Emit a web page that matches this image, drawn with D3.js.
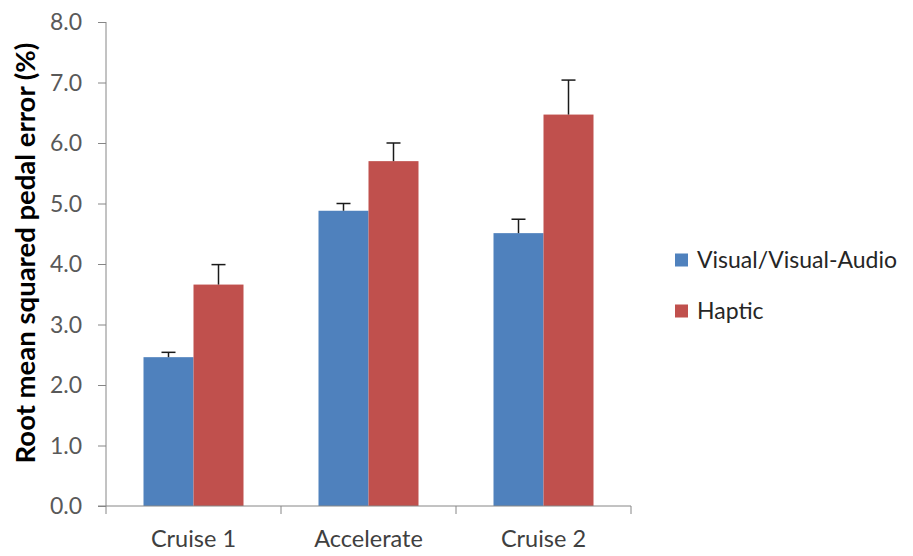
<!DOCTYPE html>
<html><head><meta charset="utf-8">
<script src="https://cdnjs.cloudflare.com/ajax/libs/d3/7.8.5/d3.min.js"></script>
<style>body{margin:0;background:#fff}svg{display:block}text{font-family:Lato,"Open Sans",sans-serif}</style>
</head><body><svg id="c" width="913" height="556"></svg>
<script>
const categories = ["Cruise 1", "Accelerate", "Cruise 2"];
const seriesNames = ["Visual/Visual-Audio", "Haptic"];
const visualValues = [2.46, 4.88, 4.51];
const visualErrors = [0.08, 0.12, 0.23];
const hapticValues = [3.66, 5.70, 6.47];
const hapticErrors = [0.33, 0.30, 0.57];
const yTicks = [0, 1, 2, 3, 4, 5, 6, 7, 8];
const colors = ["#4F81BD", "#C0504D"];

(function () {
const svg = d3.select("#c");
const mLeft = 106, mRight = 631, mTop = 22, mBottom = 506;
const x0 = d3.scaleBand().domain(categories).range([mLeft, mRight]).paddingInner(0).paddingOuter(0);
const x1 = d3.scaleBand().domain(seriesNames).range([0, x0.bandwidth()]).paddingInner(0).paddingOuter(0.75);
const y = d3.scaleLinear().domain([0, 8]).range([mBottom, mTop]);

const data = [];
categories.forEach((c, i) => {
  data.push({cat: c, s: seriesNames[0], v: visualValues[i], e: visualErrors[i], col: colors[0]});
  data.push({cat: c, s: seriesNames[1], v: hapticValues[i], e: hapticErrors[i], col: colors[1]});
});

// bars
svg.append("g").selectAll("rect").data(data).join("rect")
  .attr("x", d => x0(d.cat) + x1(d.s))
  .attr("width", x1.bandwidth())
  .attr("y", d => y(d.v))
  .attr("height", d => y(0) - y(d.v))
  .attr("fill", d => d.col);

// error bars
const eg = svg.append("g").attr("stroke", "#1a1a1a").attr("stroke-width", 1.5);
data.forEach(d => {
  const cx = x0(d.cat) + x1(d.s) + x1.bandwidth() / 2;
  eg.append("line").attr("x1", cx).attr("x2", cx).attr("y1", y(d.v)).attr("y2", y(d.v + d.e));
  eg.append("line").attr("x1", cx - 7).attr("x2", cx + 7).attr("y1", y(d.v + d.e)).attr("y2", y(d.v + d.e));
});

// y axis
const yAxis = d3.axisLeft(y).tickValues(yTicks).tickFormat(d3.format(".1f")).tickSize(8).tickPadding(16);
const ya = svg.append("g").attr("transform", `translate(${mLeft},0)`).call(yAxis);
ya.select(".domain").attr("stroke", "#868686").attr("d", `M0,${mBottom}V${mTop}`);
ya.selectAll(".tick line").attr("stroke", "#868686");
ya.selectAll(".tick text").attr("fill", "#595959").style("font-size", "23px").attr("font-family", "Lato, sans-serif").attr("dy", "0.34em");

// x axis
const xAxis = d3.axisBottom(x0).tickSize(0).tickPadding(0);
const xa = svg.append("g").attr("transform", `translate(0,${mBottom})`).call(xAxis);
xa.select(".domain").attr("stroke", "#868686").attr("d", `M${mLeft - 8},0H${mRight}`);
xa.selectAll(".tick text").attr("fill", "#404040").style("font-size", "23.5px").attr("font-family", "Lato, sans-serif").attr("y", 41).attr("dy", 0);
const bounds = categories.map(c => x0(c)).concat([x0(categories[categories.length - 1]) + x0.bandwidth()]);
svg.append("g").selectAll("line").data(bounds).join("line")
  .attr("x1", d => d).attr("x2", d => d).attr("y1", mBottom).attr("y2", mBottom + 8)
  .attr("stroke", "#868686");

// y title
svg.append("text")
  .attr("transform", `translate(35,253) rotate(-90)`)
  .attr("text-anchor", "middle")
  .style("font-size", "27.5px").style("font-weight", "bold").attr("fill", "#000")
  .text("Root mean squared pedal error (%)");

// legend
const lg = svg.append("g").attr("transform", "translate(675,260)");
seriesNames.forEach((s, i) => {
  const g = lg.append("g").attr("transform", `translate(0,${i * 51})`);
  g.append("rect").attr("x", 0).attr("y", -6.5).attr("width", 13).attr("height", 13).attr("fill", colors[i]);
  g.append("text").attr("x", 22).attr("y", 0).attr("dy", "0.36em").attr("fill", "#262626")
    .style("font-size", "23px").text(s);
});
})();
</script></body></html>
